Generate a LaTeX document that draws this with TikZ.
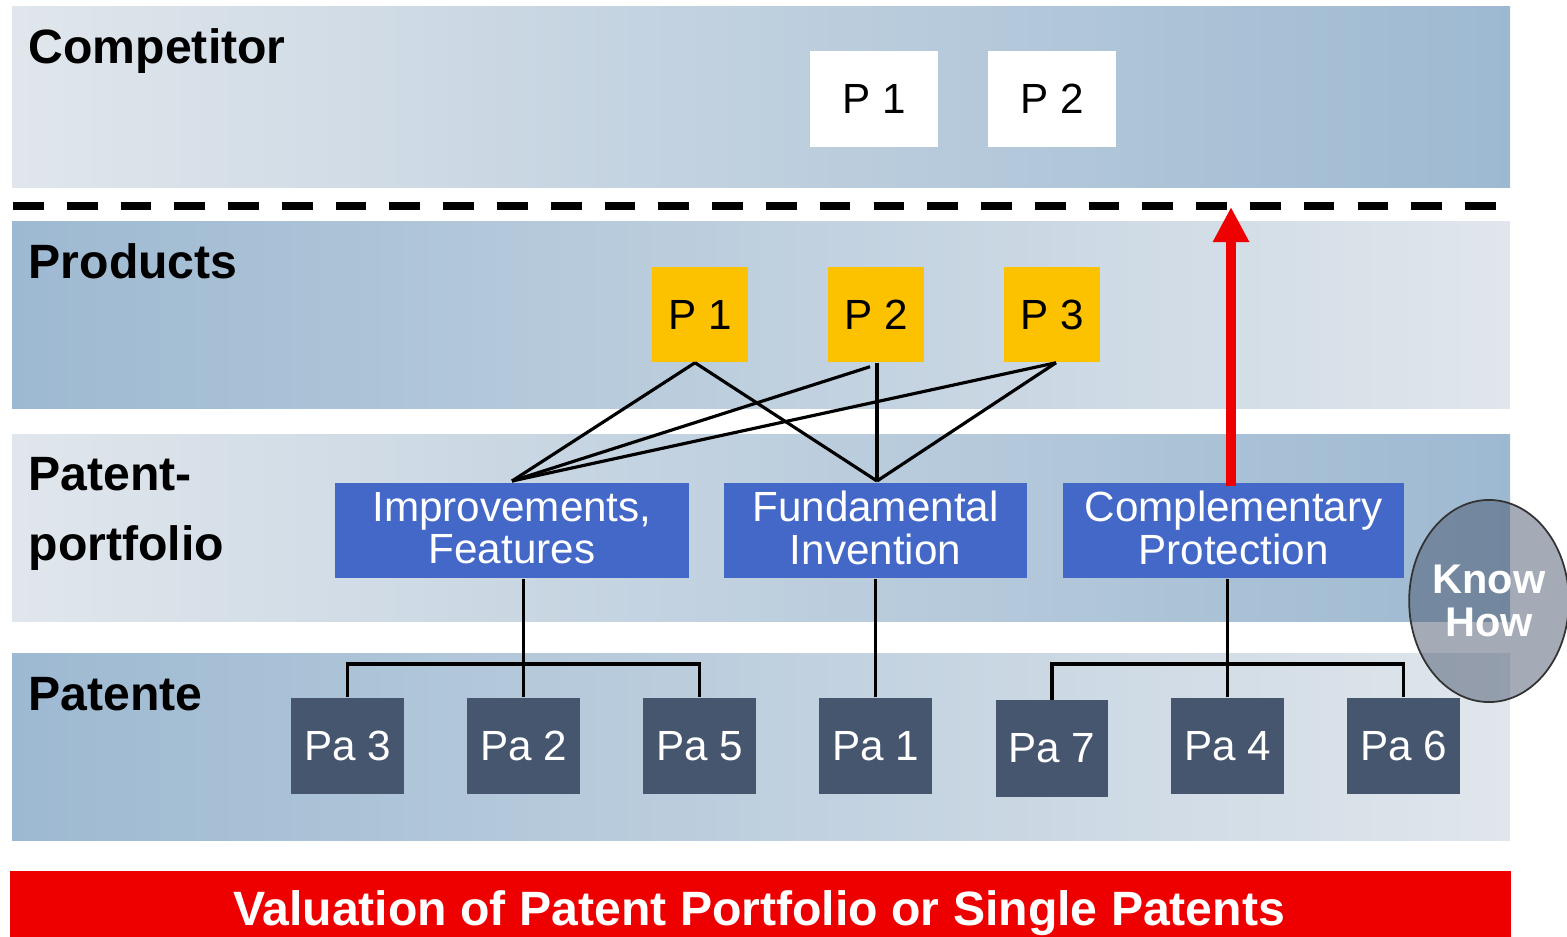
\documentclass[tikz,border=0pt]{standalone}
\usepackage{fontspec}
\setmainfont{Liberation Sans}
\usetikzlibrary{arrows.meta,shapes.geometric}
\definecolor{bandlight}{RGB}{224,230,236}
\definecolor{banddark}{RGB}{157,185,209}
\definecolor{prodyellow}{RGB}{252,194,0}
\definecolor{portblue}{RGB}{68,104,200}
\definecolor{patslate}{RGB}{71,86,111}
\definecolor{knowgray}{RGB}{73,87,110}
\definecolor{titlered}{RGB}{238,0,0}
\tikzset{
  lab/.style={font=\fontsize{13.7}{14}\selectfont\bfseries, inner sep=0pt, text=black},
  compbox/.style={fill=white, minimum width=1.28cm, minimum height=0.96cm, inner sep=0pt,
    font=\fontsize{12}{12}\selectfont},
  prodbox/.style={fill=prodyellow, minimum width=0.96cm, minimum height=0.95cm, inner sep=0pt,
    font=\fontsize{12}{12}\selectfont},
  portbox/.style={fill=portblue, minimum height=0.95cm, inner sep=0pt, text=white, align=center,
    font=\fontsize{12}{12}\selectfont},
  porttext/.style={inner sep=0pt, text=white, align=center, font=\fontsize{12}{12}\selectfont},
  patbox/.style={fill=patslate, minimum width=1.12cm, minimum height=0.96cm, inner sep=0pt,
    text=white, font=\fontsize{12}{12}\selectfont},
  conn/.style={draw=black, line width=0.9pt},
  redarrow/.style={draw=titlered, line width=0.1cm, -{Triangle[width=0.34cm,length=0.35cm]}},
}
\begin{document}
\begin{tikzpicture}[x=0.01cm,y=-0.01cm]
\useasboundingbox (0,0) rectangle (1567,936);
\clip (0,0) rectangle (1567,936);
% bands
\shade[left color=bandlight, right color=banddark] (12,6) rectangle (1510,187);
\shade[left color=banddark, right color=bandlight] (12,221) rectangle (1510,408);
\shade[left color=bandlight, right color=banddark] (12,434) rectangle (1510,621);
\shade[left color=banddark, right color=bandlight] (12,653) rectangle (1510,840);
% dashed separator
\draw[line width=0.078cm, dash pattern=on 0.307cm off 0.2305cm] (13,206) -- (1496,206);
% labels
\node[lab, anchor=base west] (lcomp) at (28,63) {Competitor};
\node[lab, anchor=base west] (lprod) at (28,278) {Products};
\node[lab, anchor=base west] (lpat1) at (28,490) {Patent-};
\node[lab, anchor=base west] (lpat2) at (28,560) {portfolio};
\node[lab, anchor=base west] (lpats) at (28,710) {Patente};
% competitor products
\node[compbox] (c1) at (874,99) {P 1};
\node[compbox] (c2) at (1052,99) {P 2};
% own products
\node[prodbox] (p1) at (700,314.5) {P 1};
\node[prodbox] (p2) at (876,314.5) {P 2};
\node[prodbox] (p3) at (1052,314.5) {P 3};
% portfolio
\node[portbox, minimum width=3.54cm] (imp) at (512,530.5) {};
\node[portbox, minimum width=3.03cm] (fund) at (875.5,530.5) {};
\node[portbox, minimum width=3.41cm] (comp) at (1233.5,530.5) {};
\node[porttext] (impl) at (512,528) {Improvements,\\Features};
\node[porttext] (fundl) at (875.5,528) {Fundamental\\Invention};
\node[porttext] (compl) at (1233.5,528) {Complementary\\Protection};
% patents
\node[patbox] (pa3) at (347.5,746) {Pa 3};
\node[patbox] (pa2) at (523.5,746) {Pa 2};
\node[patbox] (pa5) at (699.5,746) {Pa 5};
\node[patbox] (pa1) at (875.5,746) {Pa 1};
\node[patbox] (pa7) at (1052,748.5) {Pa 7};
\node[patbox] (pa4) at (1227.5,746) {Pa 4};
\node[patbox] (pa6) at (1403.5,746) {Pa 6};
% product to portfolio connectors
\coordinate (impt) at (512,481);
\coordinate (fundt) at (877,481);
\draw[conn] ([xshift=-0.05cm]p1.south) -- (impt);
\draw[conn] ([xshift=-0.05cm]p1.south) -- (fundt);
\draw[conn] ([xshift=-0.06cm,yshift=-0.04cm]p2.south) -- (impt);
\draw[conn] ([xshift=0.01cm]p2.south) -- (fundt);
\draw[conn] ([xshift=0.04cm]p3.south) -- (impt);
\draw[conn] ([xshift=0.04cm]p3.south) -- (fundt);
% trees
\coordinate (bar1) at (525,664);
\coordinate (bar2) at (1229,664);
\draw[conn] (pa2.north) -- (pa2.north |- imp.south);
\draw[conn] (pa3.north) |- (bar1) -| (pa5.north);
\draw[conn] (pa1.north) -- (fund.south);
\draw[conn] (pa4.north) -- (pa4.north |- comp.south);
\draw[conn] (pa7.north) |- (bar2) -| (pa6.north);
% red arrow
\coordinate (tip) at (1231,207);
\draw[redarrow] ([xshift=-0.025cm,yshift=-0.04cm]comp.north) -- ([xshift=-0.025cm]comp.north |- tip);
% know how
\node[ellipse, fill=knowgray, fill opacity=0.5, draw=black!80, line width=0.5pt,
  minimum width=1.55cm, minimum height=2.02cm, inner sep=0pt,
  text opacity=1, text=white, align=center,
  font=\fontsize{11.8}{12}\selectfont\bfseries] (know) at (1489,601) {Know\\How};
% title bar
\fill[titlered] (10,871) rectangle (1511,940);
\node[anchor=base, text=white, inner sep=0pt, font=\fontsize{13.7}{14}\selectfont\bfseries]
  (title) at (759,925) {Valuation of Patent Portfolio or Single Patents};
\end{tikzpicture}
\end{document}
